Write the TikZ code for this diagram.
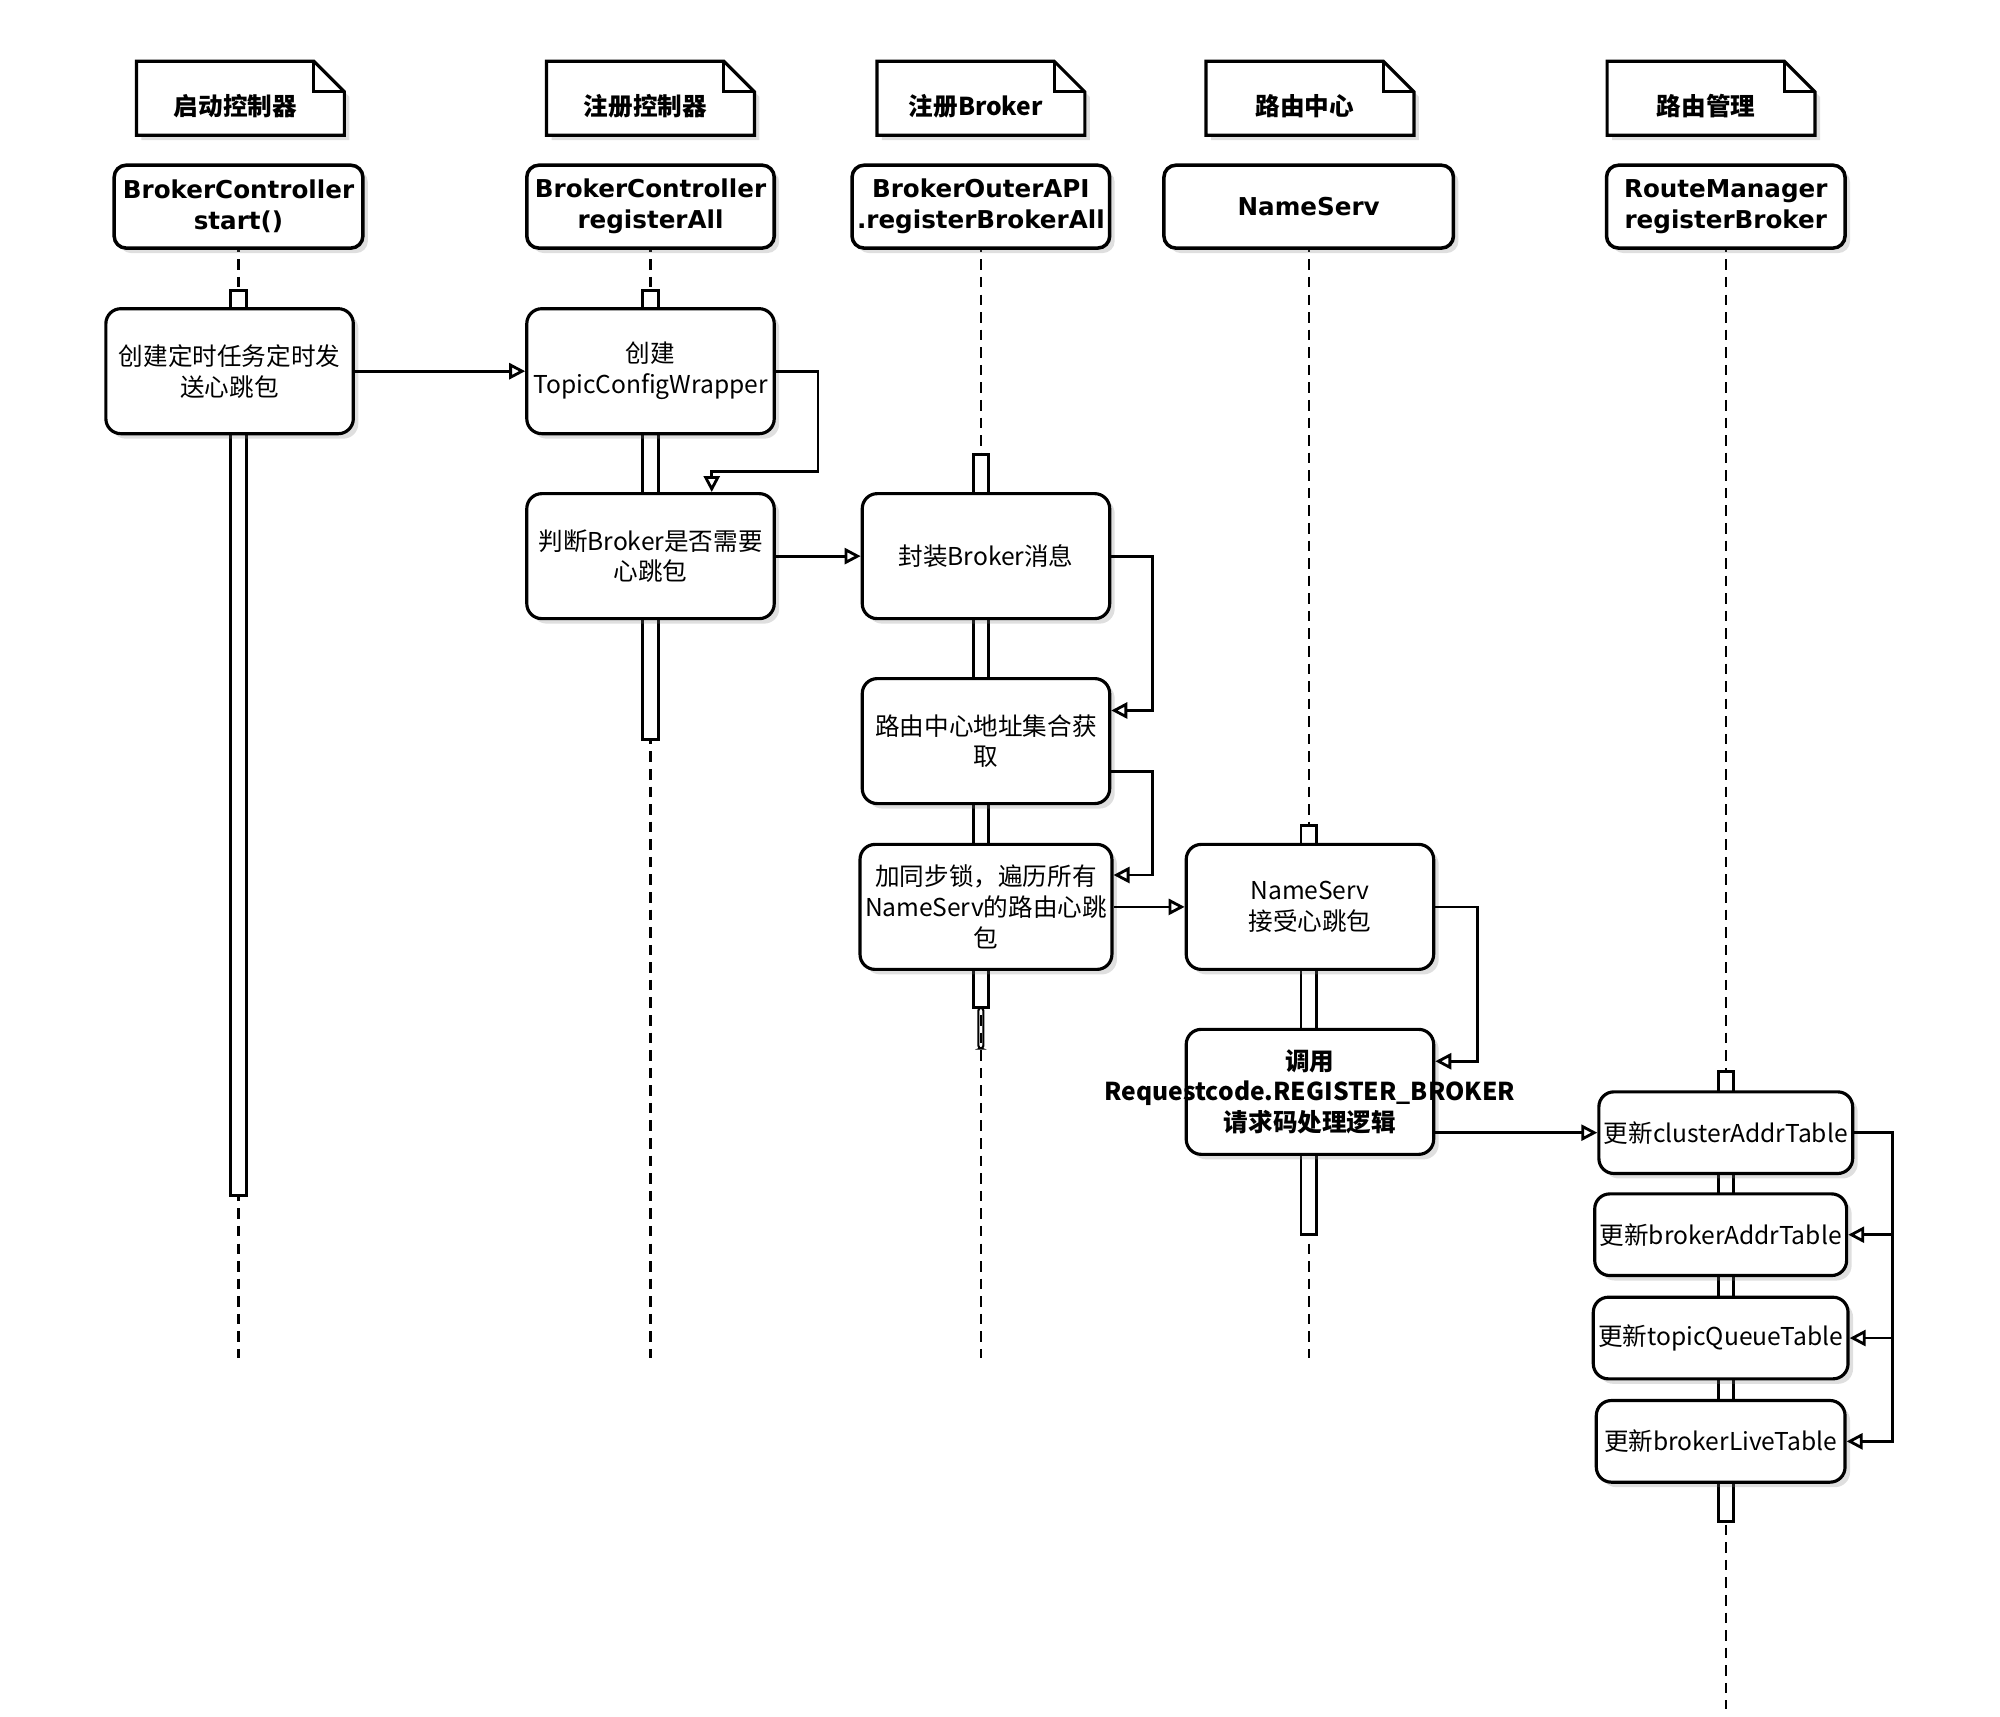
\documentclass[tikz,border=0pt]{standalone}
\usepackage{fontspec}
\setmainfont{Noto Sans CJK SC}
\newfontfamily\RMheadfont{DejaVu Sans}
\usetikzlibrary{arrows.meta,calc,shadows}
\newcommand\RMsize{\fontsize{7}{8.8}\selectfont}
\def\RMpx{0.12755mm}
\tikzset{
  RMshadow/.style={drop shadow={shadow xshift=0.5mm, shadow yshift=-0.5mm, opacity=0.25}},
  RMpaper/.style={draw, fill=white, line width=0.9pt, RMshadow},
  RMnotetext/.style={inner sep=0pt, font=\bfseries\RMsize},
  RMhead/.style={draw, fill=white, line width=1pt, rounded corners=1.2mm, RMshadow,
    minimum height=65*\RMpx, inner sep=0.5mm, align=center, font=\RMheadfont\bfseries\RMsize},
  RMact/.style={draw, fill=white, line width=0.9pt, rounded corners=1.5mm, RMshadow,
    minimum width=194*\RMpx, minimum height=98*\RMpx, inner sep=0.5mm, align=center, font=\RMsize},
  RMtable/.style={RMact, minimum width=195*\RMpx, minimum height=64*\RMpx},
  RMbar/.style={draw, fill=white, line width=0.8pt},
  RMlife/.style={line width=0.6pt, dash pattern=on 3pt off 2pt},
  RMmsg/.style={-{Triangle[open,length=1.6mm,width=1.6mm]}, line width=0.8pt}
}
% name, lifeline x, note x, head width, note text, head text, lifeline end
\newcommand\RMlane[7]{
  \def\X{#2} \def\N{#3}
  \draw[RMlife] (\X,162) -- (\X,#7);
  \filldraw[RMpaper] (\N-81.5,106) -- (\N-81.5,48) -- (\N+57.5,48)
    -- (\N+81.5,72) -- (\N+81.5,106) -- cycle;
  \draw[line width=0.8pt] (\N+57.5,48) -- (\N+57.5,72) -- (\N+81.5,72);
  \node[RMnotetext] (#1note) at (\N-4,83) {#5};
  \node[RMhead, minimum width=#4*\RMpx] (#1head) at (\X,162) {#6};
}
\begin{document}
\begin{tikzpicture}[x=\RMpx, y=-\RMpx]
\useasboundingbox (0,0) rectangle (1568,1346);
\RMlane{boot}{187}{188.5}{195}{启动控制器}{BrokerController\\start()}{1065}
\RMlane{reg}{510}{510}{194}{注册控制器}{BrokerController\\registerAll}{1065}
\RMlane{api}{769}{769}{202}{注册Broker}{BrokerOuterAPI\\.registerBrokerAll}{1065}
\RMlane{ns}{1026}{1027}{227}{路由中心}{NameServ}{1065}
\RMlane{route}{1353}{1341.5}{187}{路由管理}{RouteManager\\registerBroker}{1340}

\foreach \x/\a/\b in {187/228/937, 510/228/580, 769/356/790, 1026/647/968, 1353/840/1193}
  \draw[RMbar] (\x-6,\a) rectangle (\x+6,\b);
\draw[line width=0.6pt, rounded corners=0.3mm] (767,790) rectangle (771,822);

\node[RMact] (start) at (180,291) {创建定时任务定时发\\送心跳包};
\node[RMact] (wrap) at (510,291) {创建\\TopicConfigWrapper};
\node[RMact] (judge) at (510,436) {判断Broker是否需要\\心跳包};
\node[RMact] (pack) at (773,436) {封装Broker消息};
\node[RMact] (addr) at (773,581) {路由中心地址集合获\\取};
\node[RMact] (lock) at (773,711) {加同步锁，遍历所有\\NameServ的路由心跳\\包};
\node[RMact] (recv) at (1027,711) {NameServ\\接受心跳包};
\node[RMact] (call) at (1027,856) {};
\node[align=center, font=\bfseries\RMsize] (calltext) at (call)
  {调用\\Requestcode.REGISTER\_BROKER\\请求码处理逻辑};
\node[RMtable] (cluster) at (1353,888) {更新clusterAddrTable};
\node[RMtable] (brokeraddr) at (1349,968) {更新brokerAddrTable};
\node[RMtable] (topic) at (1349,1049) {更新topicQueueTable};
\node[RMtable] (live) at (1349,1130) {更新brokerLiveTable};

\draw[RMmsg] (start.east) -- (wrap.west);
\draw[RMmsg] (wrap.east) -- ++(33,0) |- ($(judge.north)+(48,-16)$) -- ($(judge.north)+(48,0)$);
\draw[RMmsg] (judge.east) -- (pack.west);
\draw[RMmsg] (pack.east) -- ++(32,0) |- ($(addr.east)+(0,-24)$);
\draw[RMmsg] ($(addr.east)+(0,24)$) -- ++(32,0) |- ($(lock.east)+(0,-25)$);
\draw[RMmsg] (lock.east) -- (recv.west);
\draw[RMmsg] (recv.east) -- ++(33,0) |- ($(call.east)+(0,-24)$);
\draw[RMmsg] (call.east |- cluster.west) -- (cluster.west);
\foreach \t in {brokeraddr,topic,live}
  \draw[RMmsg] (cluster.east) -- ++(30,0) |- (\t.east);
\end{tikzpicture}
\end{document}
